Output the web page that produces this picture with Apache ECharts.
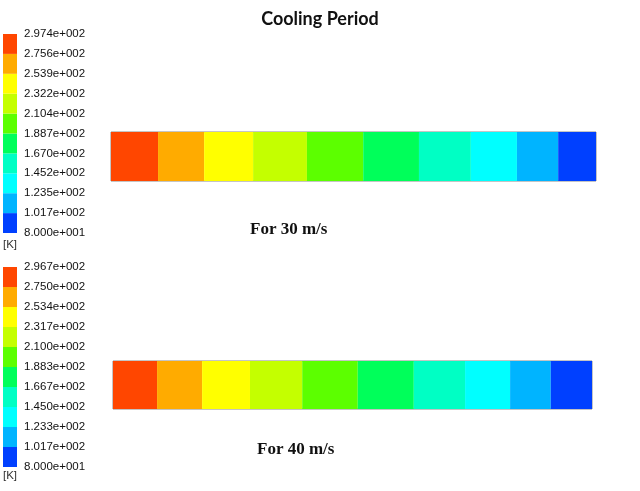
<!DOCTYPE html>
<html>
<head>
<meta charset="utf-8">
<script src="https://cdn.jsdelivr.net/npm/echarts@6/dist/echarts.min.js"></script>
<style>html,body{margin:0;padding:0;background:#fff}#c{width:640px;height:491px}</style>
</head>
<body>
<div id="c"></div>
<script>
// Colour bands, low -> high temperature
var bandColors = ['#0040ff','#00b4ff','#00ffff','#00ffc4','#00ff5a','#5cff00','#c4ff00','#ffff00','#ffab00','#ff4600'];
// Colour-bar tick labels (bottom -> top), in K
var tickLabels30 = ['8.000e+001','1.017e+002','1.235e+002','1.452e+002','1.670e+002','1.887e+002','2.104e+002','2.322e+002','2.539e+002','2.756e+002','2.974e+002'];
var tickLabels40 = ['8.000e+001','1.017e+002','1.233e+002','1.450e+002','1.667e+002','1.883e+002','2.100e+002','2.317e+002','2.534e+002','2.750e+002','2.967e+002'];
// Segment edges along the bar (percent of length) and band index of each segment
var edges30 = [0, 9.7, 19.2, 29.3, 40.4, 52.0, 63.5, 74.2, 83.7, 92.2, 100];
var bands30 = [9, 8, 7, 6, 5, 4, 3, 2, 1, 0];
var edges40 = [0, 9.2, 18.6, 28.6, 39.5, 51.1, 62.8, 73.5, 82.9, 91.4, 100];
var bands40 = [9, 8, 7, 6, 5, 4, 3, 2, 1, 0];

function segData(edges, bands){
  var d = [];
  for (var i = 0; i < bands.length; i++) d.push([edges[i], edges[i+1], bands[i]]);
  return d;
}
function barData(){
  var d = [];
  for (var i = 0; i < bandColors.length; i++) d.push([i, i+1, i]);
  return d;
}
function renderSeg(params, api){
  var p0 = api.coord([api.value(0), 1]);
  var p1 = api.coord([api.value(1), 0]);
  return {type:'rect', shape:{x:p0[0], y:p0[1], width:p1[0]-p0[0], height:p1[1]-p0[1]},
    style:{fill: bandColors[api.value(2)]}};
}
function renderBand(params, api){
  var p0 = api.coord([0, api.value(1)]);
  var p1 = api.coord([1, api.value(0)]);
  return {type:'rect', shape:{x:p0[0], y:p0[1], width:p1[0]-p0[0], height:p1[1]-p0[1]},
    style:{fill: bandColors[api.value(2)]}};
}
var chart = echarts.init(document.getElementById('c'));
var hidden = {show:false};
var lblFont = {fontFamily:'Liberation Sans', fontSize:11.5, color:'#111'};
function cbAxis(gi, labels){
  return {type:'value', gridIndex:gi, min:0, max:10, interval:1, position:'right',
    axisLine:hidden, axisTick:hidden, splitLine:hidden,
    axisLabel:Object.assign({margin:7, formatter:function(v){return labels[v];}}, lblFont)};
}
function plainAxis(gi, max){
  return {type:'value', gridIndex:gi, min:0, max:max, show:false, splitLine:hidden};
}
chart.setOption({
  animation:false,
  title:[
    {text:'Cooling Period', left:'center', top:5, textStyle:{fontFamily:'Lato', fontWeight:'bold', fontSize:18, color:'#111'}},
    {text:'For 30 m/s', left:245, top:216, textStyle:{fontFamily:'Liberation Serif', fontWeight:'bold', fontSize:17, color:'#111'}},
    {text:'For 40 m/s', left:252, top:436, textStyle:{fontFamily:'Liberation Serif', fontWeight:'bold', fontSize:17, color:'#111'}},
    {text:'[K]', left:-2, top:234, textStyle:{fontFamily:'Liberation Sans', fontWeight:'normal', fontSize:11.5, color:'#333'}},
    {text:'[K]', left:-2, top:465, textStyle:{fontFamily:'Liberation Sans', fontWeight:'normal', fontSize:11.5, color:'#333'}}
  ],
  grid:[
    {left:3, top:34, width:14, height:199},
    {left:111, top:132, width:485, height:49, show:true, borderColor:'#8a8a8a', borderWidth:1, backgroundColor:'transparent'},
    {left:3, top:267, width:14, height:200},
    {left:113, top:361, width:479, height:48, show:true, borderColor:'#8a8a8a', borderWidth:1, backgroundColor:'transparent'}
  ],
  xAxis:[plainAxis(0,1), plainAxis(1,100), plainAxis(2,1), plainAxis(3,100)],
  yAxis:[cbAxis(0, tickLabels30), plainAxis(1,1), cbAxis(2, tickLabels40), plainAxis(3,1)],
  series:[
    {type:'custom', xAxisIndex:0, yAxisIndex:0, renderItem:renderBand, data:barData(), silent:true},
    {type:'custom', xAxisIndex:1, yAxisIndex:1, renderItem:renderSeg, data:segData(edges30,bands30), silent:true},
    {type:'custom', xAxisIndex:2, yAxisIndex:2, renderItem:renderBand, data:barData(), silent:true},
    {type:'custom', xAxisIndex:3, yAxisIndex:3, renderItem:renderSeg, data:segData(edges40,bands40), silent:true}
  ]
});
</script>
</body>
</html>
